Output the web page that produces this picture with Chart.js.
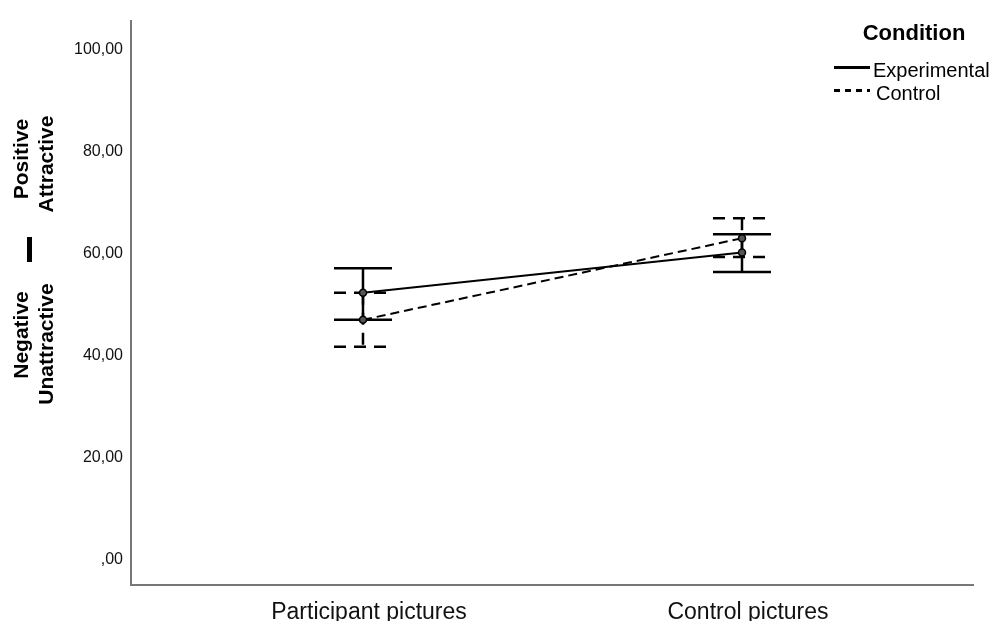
<!DOCTYPE html>
<html><head><meta charset="utf-8">
<script src="https://cdn.jsdelivr.net/npm/chart.js@4"></script>
<style>html,body{margin:0;padding:0;background:#fff}#wrap{width:993px;height:621px;position:relative}</style>
</head><body><div id="wrap"><canvas id="c" width="993" height="621"></canvas></div>
<script>
const categories = ['Participant pictures', 'Control pictures'];
const seriesNames = ['Experimental', 'Control'];
const experimentalMean = [52.4, 60.3];
const experimentalLower = [47.1, 56.5];
const experimentalUpper = [57.2, 63.9];
const controlMean = [47.1, 63.1];
const controlLower = [41.8, 59.4];
const controlUpper = [52.4, 67.0];
const yTickValues = [0, 20, 40, 60, 80, 100];
const yTickLabels = [',00', '20,00', '40,00', '60,00', '80,00', '100,00'];
const yTitleLeft = ['Negative', 'Positive'];
const yTitleRight = ['Unattractive', 'Attractive'];
const legendTitle = 'Condition';

const FONT = "'Liberation Sans', Arial, sans-serif";
Chart.defaults.font.family = FONT;
Chart.defaults.color = '#111';

const seriesStyle = [
  { dash: [], capDash: [] },
  { dash: [9, 5], capDash: [12, 8] }
];
const seriesBars = [
  { mean: experimentalMean, lower: experimentalLower, upper: experimentalUpper },
  { mean: controlMean, lower: controlLower, upper: controlUpper }
];

const errorBars = {
  id: 'errorBars',
  beforeDatasetsDraw(chart) {
    const ctx = chart.ctx, xs = chart.scales.x, ys = chart.scales.y;
    const half = 29;
    ctx.save();
    ctx.strokeStyle = '#000';
    ctx.lineWidth = 2.5;
    seriesBars.forEach((s, k) => {
      ctx.setLineDash(seriesStyle[k].capDash);
      s.mean.forEach((m, i) => {
        const px = xs.getPixelForValue(i);
        const pt = ys.getPixelForValue(s.upper[i]);
        const pb = ys.getPixelForValue(s.lower[i]);
        ctx.beginPath();
        ctx.moveTo(px, pt); ctx.lineTo(px, pb);
        ctx.moveTo(px - half, pt); ctx.lineTo(px + half, pt);
        ctx.moveTo(px - half, pb); ctx.lineTo(px + half, pb);
        ctx.stroke();
      });
    });
    ctx.restore();
  }
};

const decorations = {
  id: 'decorations',
  afterDraw(chart) {
    const ctx = chart.ctx;
    ctx.save();
    ctx.fillStyle = '#000';
    ctx.font = 'bold 21px ' + FONT;
    ctx.textAlign = 'center';
    ctx.textBaseline = 'alphabetic';
    const put = (txt, x, y) => {
      ctx.save(); ctx.translate(x, y); ctx.rotate(-Math.PI / 2);
      ctx.fillText(txt, 0, 0); ctx.restore();
    };
    put(yTitleLeft[0], 28, 335);
    put(yTitleLeft[1], 28, 159);
    put(yTitleRight[0], 53, 344);
    put(yTitleRight[1], 53, 164);
    ctx.fillRect(27, 237, 5, 25);
    ctx.font = 'bold 22px ' + FONT;
    ctx.textAlign = 'center';
    ctx.textBaseline = 'middle';
    ctx.fillText(legendTitle, 914, 34);
    ctx.font = '20px ' + FONT;
    ctx.textAlign = 'left';
    ctx.strokeStyle = '#000';
    ctx.lineWidth = 3;
    ctx.beginPath(); ctx.moveTo(834, 67.5); ctx.lineTo(870, 67.5); ctx.stroke();
    ctx.fillText(seriesNames[0], 873, 71);
    ctx.setLineDash([6, 5]);
    ctx.beginPath(); ctx.moveTo(834, 90.5); ctx.lineTo(870, 90.5); ctx.stroke();
    ctx.setLineDash([]);
    ctx.fillText(seriesNames[1], 876, 94);
    ctx.restore();
  }
};

new Chart(document.getElementById('c'), {
  type: 'line',
  data: {
    datasets: [
      {
        label: seriesNames[0],
        data: experimentalMean.map((v, i) => ({ x: i, y: v })),
        borderColor: '#000', borderWidth: 2, borderDash: seriesStyle[0].dash,
        pointRadius: 3.5, pointBorderWidth: 1.5, pointBorderColor: '#000',
        pointBackgroundColor: '#555', tension: 0
      },
      {
        label: seriesNames[1],
        data: controlMean.map((v, i) => ({ x: i, y: v })),
        borderColor: '#000', borderWidth: 2, borderDash: seriesStyle[1].dash,
        pointRadius: 3.5, pointBorderWidth: 1.5, pointBorderColor: '#000',
        pointBackgroundColor: '#555', tension: 0
      }
    ]
  },
  options: {
    responsive: false,
    animation: false,
    layout: { padding: { top: 21, right: 20, left: 0, bottom: 0 } },
    plugins: { legend: { display: false }, tooltip: { enabled: false } },
    scales: {
      x: {
        type: 'linear',
        min: -0.6121, max: 1.6095,
        afterBuildTicks: (s) => { s.ticks = categories.map((_, i) => ({ value: i })); },
        afterFit: (s) => { s.height = 36; },
        grid: { display: false, drawTicks: false },
        border: { display: true, color: '#777', width: 2 },
        ticks: {
          autoSkip: false, maxRotation: 0, padding: 14, labelOffset: 6,
          font: { size: 23 }, color: '#111',
          callback: (v, i) => categories[i]
        }
      },
      y: {
        type: 'linear',
        min: -4.9, max: 105.7,
        afterBuildTicks: (s) => { s.ticks = yTickValues.map(v => ({ value: v })); },
        afterFit: (s) => { s.width = 131; },
        grid: { display: false, drawTicks: false },
        border: { display: true, color: '#777', width: 2 },
        ticks: {
          padding: 8, font: { size: 16 }, color: '#111',
          callback: (v, i) => yTickLabels[i]
        }
      }
    }
  },
  plugins: [errorBars, decorations]
});
</script>
</body></html>
